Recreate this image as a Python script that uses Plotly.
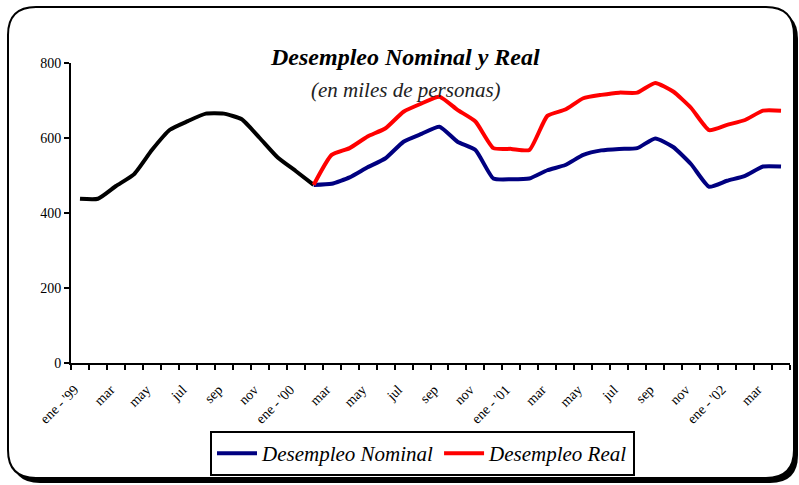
"""
Desempleo Nominal y Real (en miles de personas)
ene/1999 – abr/2002, serie mensual
"""

import plotly.graph_objects as go

# ── Datos ────────────────────────────────────────────────────────────────────

MESES_ABREV = ["ene", "feb", "mar", "abr", "may", "jun",
               "jul", "ago", "sep", "oct", "nov", "dic"]

# 40 meses: ene-1999 .. abr-2002
MESES = [f"{MESES_ABREV[i % 12]}-{1999 + i // 12}" for i in range(40)]

ETIQUETAS = ["ene - '99", "mar", "may", "jul", "sep", "nov",
             "ene - '00", "mar", "may", "jul", "sep", "nov",
             "ene - '01", "mar", "may", "jul", "sep", "nov",
             "ene - '02", "mar"]

# tramo común (ene-99 .. feb-00)
DESEMPLEO_COMUN = [438, 438, 472, 503, 568, 622, 645, 665, 665, 650,
                   600, 548, 512, 475]

# desde feb-00 .. abr-02
DESEMPLEO_NOMINAL = [475, 478, 495, 522, 546, 590, 611, 630, 590, 568,
                     492, 490, 492, 514, 528, 555, 567, 571, 573, 599,
                     576, 530, 470, 486, 499, 524, 524]

DESEMPLEO_REAL = [475, 555, 573, 604, 626, 670, 692, 710, 675, 644,
                  573, 571, 568, 659, 676, 706, 715, 721, 721, 747,
                  724, 680, 621, 635, 648, 673, 673]

# ── Geometría (px) ───────────────────────────────────────────────────────────

ANCHO, ALTO = 799, 485
M_IZQ, M_DER, M_SUP, M_INF = 71, 9, 63, 122
W = ANCHO - M_IZQ - M_DER
H = ALTO - M_SUP - M_INF

FUENTE = "Liberation Serif, Times New Roman, serif"


def a_papel(px, py):
    return (px - M_IZQ) / W, (ALTO - M_INF - py) / H


def rect_redondeado(x0, y0, x1, y1, r):
    pts = [
        ("M", [(x0, y0 + r)]),
        ("Q", [(x0, y0), (x0 + r, y0)]),
        ("L", [(x1 - r, y0)]),
        ("Q", [(x1, y0), (x1, y0 + r)]),
        ("L", [(x1, y1 - r)]),
        ("Q", [(x1, y1), (x1 - r, y1)]),
        ("L", [(x0 + r, y1)]),
        ("Q", [(x0, y1), (x0, y1 - r)]),
    ]
    partes = []
    for cmd, coords in pts:
        txt = " ".join(f"{a_papel(x, y)[0]:.5f},{a_papel(x, y)[1]:.5f}"
                       for x, y in coords)
        partes.append(f"{cmd} {txt}")
    return " ".join(partes) + " Z"

# ── Figura ───────────────────────────────────────────────────────────────────

idx_comun = list(range(len(DESEMPLEO_COMUN)))
inicio = len(DESEMPLEO_COMUN) - 1
idx_series = list(range(inicio, inicio + len(DESEMPLEO_NOMINAL)))

fig = go.Figure()

fig.add_trace(go.Scatter(
    x=idx_comun, y=DESEMPLEO_COMUN,
    mode="lines",
    line=dict(color="black", width=4, shape="spline", smoothing=0.5),
    showlegend=False,
    customdata=[MESES[i] for i in idx_comun],
    hovertemplate="%{customdata}: %{y}<extra></extra>",
))

fig.add_trace(go.Scatter(
    x=idx_series, y=DESEMPLEO_NOMINAL,
    mode="lines",
    name="<i>Desempleo Nominal</i>",
    line=dict(color="#000080", width=4, shape="spline", smoothing=0.5),
    customdata=[MESES[i] for i in idx_series],
    hovertemplate="%{customdata}: %{y}<extra>Nominal</extra>",
))

fig.add_trace(go.Scatter(
    x=idx_series, y=DESEMPLEO_REAL,
    mode="lines",
    name="<i>Desempleo Real</i>",
    line=dict(color="#FF0000", width=4, shape="spline", smoothing=0.5),
    customdata=[MESES[i] for i in idx_series],
    hovertemplate="%{customdata}: %{y}<extra>Real</extra>",
))

# marco redondeado con sombra
fig.add_shape(type="path", xref="paper", yref="paper", layer="below",
              path=rect_redondeado(12, 11, 798, 483, 28),
              fillcolor="black", line=dict(width=0))
fig.add_shape(type="path", xref="paper", yref="paper", layer="below",
              path=rect_redondeado(8, 7, 794, 478, 28),
              fillcolor="white", line=dict(color="black", width=2))

tx, ty = a_papel(405, 42)
sx, sy = a_papel(406, 76)
fig.add_annotation(
    x=tx, y=ty, xref="paper", yref="paper", showarrow=False,
    text="<b><i>Desempleo Nominal y Real</i></b>",
    font=dict(family=FUENTE, size=24, color="black"),
)
fig.add_annotation(
    x=sx, y=sy, xref="paper", yref="paper", showarrow=False,
    text="<i>(en miles de personas)</i>",
    font=dict(family=FUENTE, size=21, color="#222"),
)

lx, ly = a_papel(210, 431)

fig.update_layout(
    width=ANCHO, height=ALTO,
    margin=dict(l=M_IZQ, r=M_DER, t=M_SUP, b=M_INF),
    paper_bgcolor="white",
    plot_bgcolor="rgba(0,0,0,0)",
    font=dict(family=FUENTE, color="black"),
    xaxis=dict(
        range=[-0.5, 39.5],
        tickmode="array",
        # etiquetas algo a la izquierda del centro del mes, como en Excel
        tickvals=[i - 0.3 for i in range(0, 40, 2)],
        ticktext=ETIQUETAS,
        tickangle=-45,
        ticks="",
        ticklabelstandoff=11,
        tickfont=dict(family=FUENTE, size=14, color="black"),
        minor=dict(tick0=-0.5, dtick=1, ticks="outside", ticklen=5,
                   tickwidth=2, tickcolor="black"),
        showgrid=False, zeroline=False,
        showline=True, linecolor="black", linewidth=2,
        fixedrange=True,
    ),
    yaxis=dict(
        range=[0, 800],
        tickvals=[0, 200, 400, 600, 800],
        ticks="outside", ticklen=5, tickwidth=2, tickcolor="black",
        tickfont=dict(family=FUENTE, size=14, color="black"),
        showgrid=False, zeroline=False,
        showline=True, linecolor="black", linewidth=2,
        fixedrange=True,
    ),
    legend=dict(
        orientation="h",
        x=lx, y=ly, xanchor="left", yanchor="top",
        bgcolor="white", bordercolor="black", borderwidth=2,
        font=dict(family=FUENTE, size=21, color="black"),
        itemwidth=40,
    ),
    showlegend=True,
)

# sin márgenes del <body>, para que el lienzo ocupe la ventana exacta
fig.write_html("out.html",
               config={"displayModeBar": False},
               post_script="document.body.style.margin='0';")
